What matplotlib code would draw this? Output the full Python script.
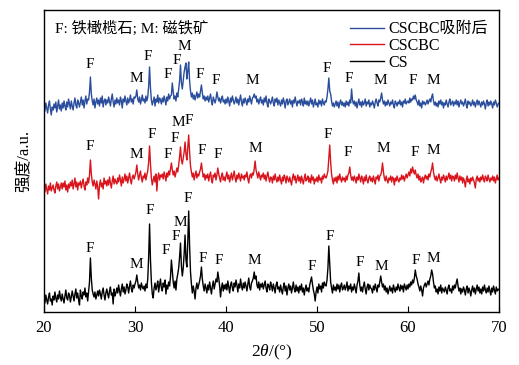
import numpy as np
import matplotlib
matplotlib.use("Agg")
import matplotlib.pyplot as plt

plt.rcParams["font.family"] = ["Liberation Serif", "Noto Sans CJK SC"]
plt.rcParams["mathtext.fontset"] = "custom"
plt.rcParams["mathtext.rm"] = "Liberation Serif"
plt.rcParams["mathtext.it"] = "Liberation Serif:italic"

# 2theta scan, 20-70 deg at 0.1 deg step
two_theta = np.round(np.arange(200, 701) * 0.1, 1)

# intensity (a.u.), one row per degree
cs = [
    14, 9, 17, 12, 8, 15, 19, 11, 13, 7,
    16, 12, 20, 14, 10, 17, 13, 21, 15, 11,
    18, 13, 9, 16, 22, 14, 12, 19, 17, 10,
    15, 21, 16, 11, 18, 23, 14, 19, 12, 7,
    22, 16, 13, 20, 17, 24, 15, 19, 11, 20,
    30, 54, 34, 22, 18, 15, 20, 13, 17, 21,
    16, 22, 18, 13, 20, 24, 17, 12, 19, 23,
    18, 14, 21, 25, 17, 19, 8, 23, 16, 19,
    24, 19, 27, 21, 16, 23, 28, 20, 25, 18,
    22, 28, 25, 19, 26, 31, 23, 20, 27, 24,
    28, 31, 37, 30, 24, 27, 22, 29, 25, 23,
    26, 21, 28, 24, 33, 55, 88, 52, 30, 18,
    14, 24, 29, 22, 26, 31, 20, 27, 33, 24,
    21, 29, 25, 32, 18, 27, 23, 30, 26, 35,
    52, 41, 30, 24, 31, 22, 33, 38, 44, 55,
    69, 46, 36, 44, 58, 77, 52, 45, 70, 101,
    66, 40, 28, 19, 26, 21, 13, 24, 29, 23,
    27, 31, 36, 45, 33, 26, 21, 28, 24, 19,
    27, 22, 30, 24, 18, 26, 31, 23, 28, 33,
    30, 40, 34, 26, 15, 24, 29, 21, 27, 23,
    28, 22, 31, 25, 19, 27, 30, 24, 21, 29,
    25, 32, 27, 20, 28, 24, 33, 26, 22, 29,
    24, 30, 26, 21, 28, 34, 25, 22, 29, 31,
    34, 40, 33, 36, 27, 24, 30, 22, 28, 25,
    29, 23, 27, 31, 24, 20, 28, 26, 22, 30,
    26, 21, 28, 24, 19, 27, 30, 23, 25, 20,
    27, 22, 18, 25, 29, 21, 26, 17, 24, 28,
    22, 26, 19, 24, 30, 23, 20, 27, 21, 25,
    19, 26, 22, 28, 20, 24, 17, 23, 27, 21,
    24, 20, 27, 31, 35, 28, 22, 18, 11, 20,
    25, 19, 28, 23, 26, 20, 29, 24, 30, 27,
    26, 32, 44, 66, 48, 30, 24, 19, 27, 22,
    25, 21, 28, 23, 27, 20, 26, 29, 22, 24,
    27, 22, 25, 30, 21, 26, 23, 28, 20, 25,
    22, 28, 24, 19, 27, 31, 39, 27, 21, 25,
    20, 26, 30, 23, 18, 25, 28, 22, 27, 24,
    23, 19, 26, 22, 28, 24, 20, 27, 25, 30,
    36, 30, 25, 28, 22, 26, 20, 24, 18, 22,
    26, 21, 24, 19, 27, 23, 20, 25, 22, 28,
    24, 21, 27, 23, 26, 20, 28, 25, 22, 27,
    23, 28, 25, 30, 27, 32, 29, 34, 42, 36,
    33, 28, 25, 21, 26, 22, 16, 24, 27, 29,
    25, 28, 31, 27, 33, 36, 42, 38, 30, 24,
    26, 20, 23, 18, 25, 21, 27, 19, 24, 22,
    20, 25, 22, 18, 24, 27, 21, 23, 19, 26,
    22, 27, 24, 29, 33, 26, 21, 24, 18, 23,
    20, 25, 22, 17, 23, 26, 19, 24, 21, 16,
    22, 26, 20, 24, 18, 23, 27, 21, 25, 19,
    23, 18, 25, 21, 27, 22, 19, 24, 20, 26,
    21, 17, 24, 20, 26, 22, 18, 25, 21, 23,
    22,
]

cscbc = [
    15, 10, 18, 13, 8, 16, 12, 19, 11, 14,
    17, 12, 9, 16, 20, 13, 18, 11, 15, 19,
    13, 19, 15, 21, 12, 17, 10, 18, 14, 20,
    16, 22, 13, 18, 24, 15, 20, 12, 19, 17,
    21, 14, 19, 23, 16, 12, 20, 17, 24, 19,
    27, 42, 28, 20, 16, 22, 18, 13, 21, 15,
    3, 17, 22, 15, 19, 13, 24, 18, 21, 16,
    22, 17, 25, 19, 14, 21, 26, 18, 23, 20,
    18, 24, 20, 27, 22, 16, 25, 19, 23, 28,
    21, 26, 19, 24, 29, 22, 18, 25, 27, 23,
    26, 30, 37, 28, 22, 27, 31, 24, 20, 26,
    24, 29, 22, 27, 31, 40, 56, 38, 24, 17,
    22, 26, 20, 28, 11, 24, 29, 22, 27, 25,
    28, 23, 30, 26, 21, 29, 25, 31, 27, 33,
    39, 32, 27, 31, 25, 29, 34, 30, 37, 45,
    55, 42, 38, 44, 50, 60, 48, 42, 55, 67,
    50, 36, 30, 25, 29, 22, 27, 31, 24, 28,
    26, 30, 33, 39, 31, 25, 28, 22, 27, 24,
    28, 21, 26, 30, 23, 19, 27, 25, 29, 22,
    27, 34, 28, 24, 20, 26, 29, 22, 25, 21,
    26, 30, 23, 27, 20, 25, 29, 22, 26, 31,
    24, 20, 27, 23, 29, 25, 21, 28, 24, 26,
    22, 27, 25, 30, 23, 19, 26, 28, 24, 29,
    27, 33, 41, 32, 28, 24, 30, 26, 22, 27,
    25, 29, 23, 27, 21, 26, 30, 24, 20, 25,
    24, 19, 26, 22, 28, 23, 20, 25, 21, 27,
    22, 18, 25, 21, 27, 24, 19, 26, 23, 20,
    25, 21, 17, 24, 28, 22, 26, 19, 23, 27,
    21, 25, 19, 26, 22, 18, 24, 28, 21, 23,
    26, 20, 24, 19, 27, 22, 25, 18, 23, 21,
    25, 20, 27, 22, 24, 19, 26, 23, 28, 25,
    24, 27, 31, 44, 57, 40, 28, 22, 18, 24,
    21, 25, 19, 26, 22, 28, 23, 20, 25, 22,
    24, 20, 26, 22, 27, 29, 35, 27, 22, 25,
    21, 26, 23, 19, 25, 22, 28, 24, 20, 26,
    23, 18, 25, 21, 27, 22, 19, 24, 26, 21,
    24, 20, 26, 22, 18, 25, 23, 27, 21, 26,
    27, 31, 39, 30, 24, 21, 26, 22, 19, 24,
    22, 26, 20, 25, 23, 17, 24, 21, 26, 22,
    20, 24, 22, 27, 23, 26, 21, 25, 28, 24,
    27, 30, 26, 33, 29, 35, 31, 28, 32, 27,
    24, 28, 22, 26, 20, 23, 25, 19, 24, 27,
    23, 26, 22, 28, 25, 30, 33, 39, 30, 25,
    22, 26, 21, 24, 28, 23, 19, 25, 22, 27,
    24, 20, 26, 22, 25, 29, 23, 27, 21, 26,
    25, 21, 27, 23, 29, 24, 20, 26, 22, 25,
    19, 24, 21, 15, 22, 26, 20, 23, 18, 24,
    21, 25, 22, 19, 14, 23, 26, 21, 24, 20,
    25, 22, 27, 23, 20, 26, 24, 21, 27, 23,
    20, 24, 22, 26, 21, 25, 19, 23, 27, 22,
    24,
]

cscbc_ads = [
    21, 16, 24, 19, 14, 22, 26, 18, 12, 20,
    17, 23, 19, 25, 15, 21, 27, 18, 22, 16,
    24, 19, 26, 21, 17, 25, 20, 28, 23, 18,
    26, 21, 17, 24, 29, 22, 19, 27, 24, 20,
    25, 30, 22, 27, 19, 26, 31, 23, 28, 27,
    35, 50, 33, 26, 22, 28, 19, 25, 29, 23,
    27, 21, 29, 24, 31, 20, 26, 28, 22, 27,
    24, 30, 26, 21, 28, 33, 25, 20, 27, 23,
    29, 24, 27, 22, 30, 26, 19, 28, 25, 31,
    26, 22, 29, 24, 27, 32, 25, 28, 23, 30,
    29, 31, 37, 28, 25, 30, 23, 27, 32, 26,
    28, 24, 31, 26, 30, 41, 60, 39, 27, 22,
    26, 30, 21, 28, 25, 32, 24, 29, 27, 23,
    29, 25, 31, 27, 22, 30, 26, 33, 28, 31,
    32, 44, 35, 28, 31, 26, 34, 30, 38, 46,
    62, 44, 38, 47, 55, 60, 64, 48, 56, 65,
    46, 36, 30, 34, 28, 32, 27, 31, 35, 29,
    33, 30, 36, 42, 34, 28, 31, 26, 30, 27,
    31, 25, 29, 33, 26, 22, 30, 27, 24, 28,
    35, 30, 26, 29, 24, 28, 31, 25, 27, 23,
    28, 24, 30, 26, 21, 29, 25, 31, 27, 23,
    26, 30, 24, 28, 22, 27, 32, 25, 21, 28,
    24, 29, 26, 22, 28, 25, 31, 27, 23, 29,
    30, 33, 29, 31, 25, 28, 23, 27, 30, 24,
    27, 22, 29, 25, 31, 24, 20, 28, 26, 23,
    26, 30, 24, 21, 28, 25, 29, 22, 27, 24,
    21, 27, 23, 29, 25, 19, 26, 28, 22, 25,
    28, 23, 26, 20, 27, 24, 30, 25, 21, 26,
    24, 27, 22, 28, 25, 21, 29, 23, 26, 22,
    26, 21, 25, 29, 23, 27, 20, 24, 28, 22,
    24, 20, 27, 23, 26, 21, 28, 24, 22, 26,
    25, 30, 38, 49, 36, 33, 26, 21, 24, 20,
    23, 26, 21, 25, 19, 24, 27, 22, 25, 21,
    24, 20, 26, 22, 25, 21, 27, 24, 38, 27,
    23, 26, 21, 25, 19, 24, 28, 22, 25, 20,
    26, 22, 24, 28, 21, 25, 23, 27, 20, 24,
    22, 26, 23, 19, 25, 28, 24, 21, 27, 25,
    29, 34, 27, 23, 26, 21, 25, 22, 27, 24,
    21, 25, 23, 27, 22, 19, 26, 24, 21, 25,
    23, 27, 22, 25, 20, 26, 24, 28, 23, 25,
    26, 24, 29, 25, 28, 27, 31, 28, 32, 27,
    25, 22, 27, 21, 24, 19, 26, 23, 25, 22,
    24, 27, 23, 26, 28, 25, 30, 33, 26, 22,
    25, 21, 24, 20, 26, 23, 27, 22, 25, 19,
    24, 22, 27, 23, 20, 25, 28, 22, 24, 26,
    21, 25, 23, 27, 22, 26, 20, 24, 27, 23,
    25, 21, 24, 28, 22, 19, 26, 23, 25, 21,
    23, 27, 22, 25, 20, 24, 27, 22, 26, 23,
    20, 25, 22, 26, 23, 18, 24, 27, 21, 25,
    22, 26, 23, 19, 25, 22, 27, 24, 20, 23,
    24,
]

# phase marks: (2theta, phase, height above the curve's own zero)
cs_marks = [
    (25.0, "F", 63), (30.2, "M", 48), (31.6, "F", 102), (33.4, "F", 61),
    (34.5, "F", 75), (34.95, "M", 89), (35.85, "F", 113), (37.4, "F", 54),
    (39.2, "F", 51), (43.1, "M", 52), (49.4, "F", 45), (51.35, "F", 75),
    (54.65, "F", 49), (57.1, "M", 46), (60.85, "F", 51), (62.8, "M", 53),
]
cscbc_marks = [
    (25.0, "F", 56), (30.2, "M", 47), (31.8, "F", 68), (33.6, "F", 47),
    (34.4, "F", 63), (34.75, "M", 79), (35.95, "F", 81), (37.3, "F", 52),
    (39.1, "F", 48), (43.2, "M", 54), (51.2, "F", 68), (53.4, "F", 50),
    (57.3, "M", 53), (60.8, "F", 49), (62.8, "M", 51),
]
ads_marks = [
    (25.0, "F", 62), (30.2, "M", 48), (31.45, "F", 70), (33.6, "F", 53),
    (34.6, "F", 66), (35.4, "M", 81), (37.1, "F", 52), (38.9, "F", 47),
    (42.9, "M", 46), (51.1, "F", 59), (53.5, "F", 49), (57.0, "M", 47),
    (60.5, "F", 47), (62.8, "M", 46),
]

# stack order: (name, intensities, marks, colour, vertical shift)
curves = [
    ("CSCBC吸附后", cscbc_ads, ads_marks, "#2a4d9c", 185),
    ("CSCBC", cscbc, cscbc_marks, "#d9141c", 110),
    ("CS", cs, cs_marks, "black", 0),
]

fig = plt.figure(figsize=(5.19, 3.65), dpi=100)
ax = fig.add_axes([44 / 519, 53 / 365, 455 / 519, 302 / 365])

for name, y, marks, color, shift in curves:
    ax.plot(two_theta, np.array(y) + shift, color=color, lw=1.0, label=name)
    for x, ph, h in marks:
        ax.text(x, h + shift, ph, ha="center", va="center", fontsize=11)

ax.set_xlim(20, 70)
ax.set_ylim(0, 302)
ax.set_xticks([20, 30, 40, 50, 60, 70])
ax.set_yticks([])
ax.tick_params(axis="x", direction="in", length=4, labelsize=12, pad=6)
for sp in ax.spines.values():
    sp.set_linewidth(1.0)

ax.set_xlabel(r"2$\theta$/(°)", fontsize=12.5, labelpad=5)
ax.set_ylabel("强度/a.u.", fontsize=12, labelpad=8)

ax.text(0.024, 0.94, "F: 铁橄榄石; M: 磁铁矿", transform=ax.transAxes,
        ha="left", va="center", fontsize=11)

ax.legend(loc="upper right", bbox_to_anchor=(1.0, 1.0), frameon=False,
          fontsize=11.5, handlelength=2.1, handletextpad=0.3,
          labelspacing=0.05, borderaxespad=0.3)

fig.savefig("out.png", dpi=100)
